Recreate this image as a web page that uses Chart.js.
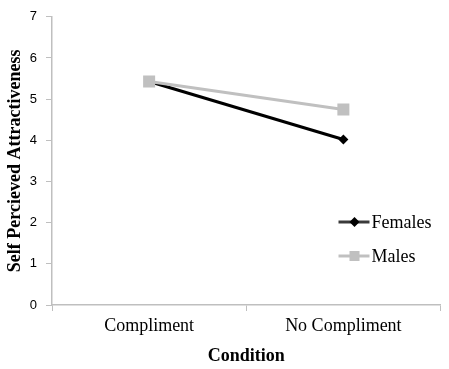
<!DOCTYPE html>
<html>
<head>
<meta charset="utf-8">
<script src="https://cdn.jsdelivr.net/npm/chart.js@4"></script>
<style>
  html, body { margin: 0; padding: 0; background: #fff; }
  #wrap { width: 449px; height: 369px; }
</style>
</head>
<body>
<div id="wrap"><canvas id="attractChart" width="449" height="369"></canvas></div>
<script>
// Data
const conditions = ['Compliment', 'No Compliment'];
const femalesData = [5.43, 4.02];
const malesData = [5.43, 4.75];
const yTicks = [0, 1, 2, 3, 4, 5, 6, 7];

const axisGray = '#bfbfbf';

// Draws the legend inside the plot area, bottom right (like the original)
const cornerLegend = {
    id: 'cornerLegend',
    afterDraw(chart) {
        const c = chart.ctx;
        const area = chart.chartArea;
        const x0 = area.right - 102;
        const items = [
            { label: 'Females', color: '#3a3a3a', style: 'diamond', y: area.bottom - 83 },
            { label: 'Males', color: '#c0c0c0', style: 'square', y: area.bottom - 49 }
        ];
        c.save();
        items.forEach(item => {
            c.strokeStyle = item.color;
            c.fillStyle = item.color;
            c.lineWidth = 3;
            c.beginPath();
            c.moveTo(x0, item.y);
            c.lineTo(x0 + 31, item.y);
            c.stroke();
            const mx = x0 + 16;
            if (item.style === 'diamond') {
                c.fillStyle = '#000';
                c.beginPath();
                c.moveTo(mx, item.y - 5);
                c.lineTo(mx + 5, item.y);
                c.lineTo(mx, item.y + 5);
                c.lineTo(mx - 5, item.y);
                c.closePath();
                c.fill();
            } else {
                c.fillRect(mx - 5, item.y - 5, 10, 10);
            }
            c.fillStyle = '#000';
            c.font = '18px "Liberation Serif"';
            c.textBaseline = 'middle';
            c.textAlign = 'left';
            c.fillText(item.label, x0 + 33, item.y + 1);
        });
        c.restore();
    }
};

const ctx = document.getElementById('attractChart').getContext('2d');
const attractChart = new Chart(ctx, {
    type: 'line',
    data: {
        labels: conditions,
        datasets: [{
            label: 'Females',
            data: femalesData,
            borderColor: '#000',
            backgroundColor: '#000',
            borderWidth: 3,
            pointStyle: 'rectRot',
            pointRadius: 5,
            pointBorderWidth: 0,
            order: 2
        }, {
            label: 'Males',
            data: malesData,
            borderColor: '#c0c0c0',
            backgroundColor: '#c0c0c0',
            borderWidth: 3,
            pointStyle: 'rect',
            pointRadius: 8.5,
            pointBorderWidth: 0,
            order: 1
        }]
    },
    options: {
        responsive: false,
        animation: false,
        layout: { padding: { top: 2, right: 3, left: 5, bottom: 2 } },
        scales: {
            x: {
                offset: true,
                afterFit(axis) { axis.height = 62; },
                grid: {
                    drawOnChartArea: false,
                    color: axisGray,
                    tickLength: 6,
                    offset: true
                },
                border: { color: axisGray, width: 1.5 },
                ticks: {
                    color: '#000',
                    padding: 4,
                    font: { family: '"Liberation Serif"', size: 18 }
                },
                title: {
                    display: true,
                    text: 'Condition',
                    color: '#000',
                    padding: { top: 6, bottom: 0 },
                    font: { family: '"Liberation Serif"', size: 18, weight: 'bold' }
                }
            },
            y: {
                min: 0,
                max: 7,
                afterFit(axis) { axis.width = 47; },
                afterBuildTicks(axis) {
                    axis.ticks = yTicks.map(v => ({ value: v }));
                },
                grid: {
                    drawOnChartArea: false,
                    color: axisGray,
                    tickLength: 6
                },
                border: { color: axisGray, width: 1.5 },
                ticks: {
                    color: '#000',
                    padding: 9,
                    font: { family: '"Liberation Sans"', size: 13 }
                },
                title: {
                    display: true,
                    text: 'Self Percieved Attractiveness',
                    color: '#000',
                    padding: { top: 0, bottom: 2 },
                    font: { family: '"Liberation Serif"', size: 18, weight: 'bold' }
                }
            }
        },
        plugins: {
            legend: { display: false },
            tooltip: { enabled: false }
        }
    },
    plugins: [cornerLegend]
});
</script>
</body>
</html>
